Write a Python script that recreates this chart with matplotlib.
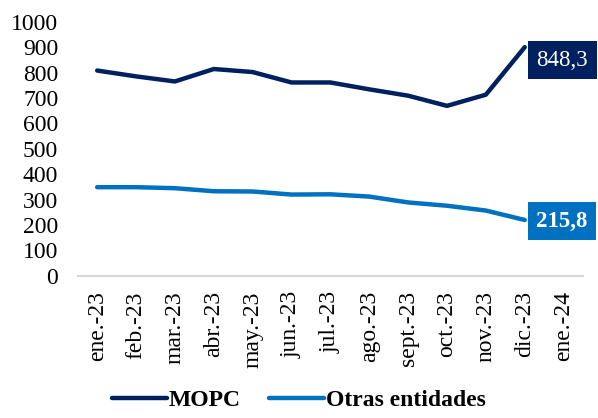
import matplotlib.pyplot as plt

plt.rcParams['font.family'] = ['Liberation Serif', 'DejaVu Serif']

# Data
months = ["ene.-23", "feb.-23", "mar.-23", "abr.-23", "may.-23", "jun.-23", "jul.-23",
          "ago.-23", "sept.-23", "oct.-23", "nov.-23", "dic.-23", "ene.-24"]
mopc = [808, 785, 765, 814, 802, 761, 761, 734, 709, 669, 713, 900]
otras = [349, 349, 345, 333, 332, 320, 321, 312, 289, 276, 257, 220]
mopc_label = 848.3
otras_label = 215.8

c_mopc = "#002060"
c_otras = "#0070C0"

fig = plt.figure(figsize=(5.98, 4.18), dpi=100)
ax = fig.add_axes([0.130, 0.340, 0.845, 0.608])

x = list(range(len(months)))
ax.plot(x[:len(mopc)], mopc, color=c_mopc, lw=3.2, solid_capstyle="round", label="MOPC")
ax.plot(x[:len(otras)], otras, color=c_otras, lw=3.2, solid_capstyle="round", label="Otras entidades")

# end-of-series value labels
ax.text(len(mopc) - 1 + 0.3, mopc_label, f"{mopc_label:.1f}".replace(".", ","),
        ha="left", va="center", color="white", fontsize=16.5,
        bbox=dict(boxstyle="square,pad=0.38", fc=c_mopc, ec="none"))
ax.text(len(otras) - 1 + 0.3, otras_label, f"{otras_label:.1f}".replace(".", ","),
        ha="left", va="center", color="white", fontsize=16.5, fontweight="bold",
        bbox=dict(boxstyle="square,pad=0.38", fc=c_otras, ec="none"))

ax.set_xlim(-0.5, len(months) - 0.5)
ax.set_ylim(0, 1000)
ax.set_yticks(range(0, 1001, 100))
ax.set_xticks(x)
ax.set_xticklabels(months, rotation=90)
ax.tick_params(axis="both", length=0, labelsize=17, colors="black")
ax.tick_params(axis="x", pad=11)
ax.tick_params(axis="y", pad=14)

for side in ["top", "right", "left"]:
    ax.spines[side].set_visible(False)
ax.spines["bottom"].set_color("#D9D9D9")
ax.spines["bottom"].set_linewidth(1.5)

fig.legend(loc="lower center", bbox_to_anchor=(0.50, -0.035), ncol=2, frameon=False,
           prop={"weight": "bold", "size": 17}, handlelength=2.3, handletextpad=0.1,
           columnspacing=1.2)

fig.savefig("out.png", dpi=100)
